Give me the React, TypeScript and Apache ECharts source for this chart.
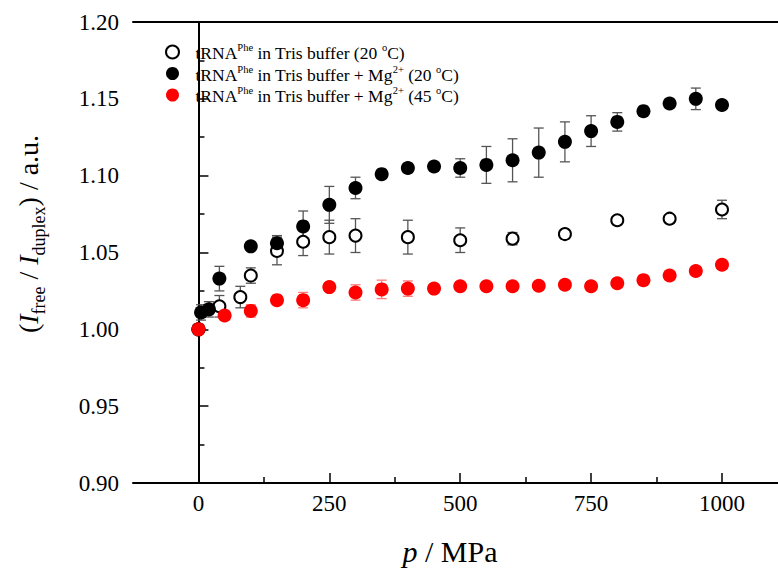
import React, { useEffect, useRef } from "react";
import * as echarts from "echarts";

// ---- data ----
const openP = [0, 40, 80, 100, 150, 200, 250, 300, 400, 500, 600, 700, 800, 900, 1000];
const openY = [1.0, 1.015, 1.021, 1.035, 1.051, 1.057, 1.06, 1.061, 1.06, 1.058, 1.059, 1.062, 1.071, 1.072, 1.078];
const openErr = [0, 0.007, 0.007, 0.005, 0.009, 0.009, 0.011, 0.011, 0.011, 0.008, 0.004, 0.003, 0.002, 0.002, 0.006];

const mgP = [0, 5, 20, 40, 100, 150, 200, 250, 300, 350, 400, 450, 500, 550, 600, 650, 700, 750, 800, 850, 900, 950, 1000];
const mgY = [1.0, 1.011, 1.013, 1.033, 1.054, 1.056, 1.067, 1.081, 1.092, 1.101, 1.105, 1.106, 1.105, 1.107, 1.11, 1.115, 1.122, 1.129, 1.135, 1.142, 1.147, 1.15, 1.146];
const mgErr = [0, 0.005, 0.005, 0.008, 0, 0.005, 0.01, 0.012, 0.007, 0, 0.003, 0, 0.006, 0.012, 0.014, 0.016, 0.013, 0.01, 0.006, 0, 0.002, 0.007, 0];

const mg45P = [0, 50, 100, 150, 200, 250, 300, 350, 400, 450, 500, 550, 600, 650, 700, 750, 800, 850, 900, 950, 1000];
const mg45Y = [1.0, 1.009, 1.012, 1.019, 1.019, 1.0275, 1.024, 1.026, 1.0265, 1.0265, 1.028, 1.028, 1.028, 1.0284, 1.029, 1.028, 1.03, 1.032, 1.035, 1.038, 1.042];
const mg45Err = [0, 0, 0.004, 0, 0.005, 0, 0.005, 0.006, 0.005, 0, 0, 0, 0, 0, 0, 0, 0, 0, 0, 0, 0];

const xMajorTicks = [0, 250, 500, 750, 1000];
const xMinorTicks = [125, 375, 625, 875];

const seriesNames = ["open20", "mg20", "mg45"];

const FONT = "'Liberation Serif', 'Times New Roman', serif";

function pts(p: number[], y: number[]) {
  return p.map((v, i) => [v, y[i]]);
}
function errs(p: number[], y: number[], e: number[]) {
  const out: number[][] = [];
  p.forEach((v, i) => {
    if (e[i] > 0) out.push([v, y[i] - e[i], y[i] + e[i]]);
  });
  return out;
}

function errSeries(data: number[][], color: string) {
  return {
    type: "custom",
    xAxisIndex: 0,
    yAxisIndex: 0,
    data,
    encode: { x: 0, y: [1, 2] },
    z: 1,
    silent: true,
    renderItem: (params: any, api: any) => {
      const x = api.value(0);
      const lo = api.coord([x, api.value(1)]);
      const hi = api.coord([x, api.value(2)]);
      const hw = 5;
      const st = { stroke: color, lineWidth: 1.3 };
      return {
        type: "group",
        children: [
          { type: "line", shape: { x1: hi[0], y1: hi[1], x2: lo[0], y2: lo[1] }, style: st },
          { type: "line", shape: { x1: hi[0] - hw, y1: hi[1], x2: hi[0] + hw, y2: hi[1] }, style: st },
          { type: "line", shape: { x1: lo[0] - hw, y1: lo[1], x2: lo[0] + hw, y2: lo[1] }, style: st },
        ],
      };
    },
  };
}

const legendText: Record<string, string> = {
  open20: "{t|tRNA}{s|Phe}{t| in Tris buffer (20 }{s|o}{t|C)}",
  mg20: "{t|tRNA}{s|Phe}{t| in Tris buffer + Mg}{s|2+}{t| (20 }{s|o}{t|C)}",
  mg45: "{t|tRNA}{s|Phe}{t| in Tris buffer + Mg}{s|2+}{t| (45 }{s|o}{t|C)}",
};

const tickFont = { fontFamily: FONT, fontSize: 23, color: "#000" };

export default function App() {
  const ref = useRef<HTMLDivElement>(null);
  useEffect(() => {
    if (!ref.current) return;
    const chart = echarts.init(ref.current, undefined, { renderer: "svg" });
    const axisLineStyle = { color: "#000", width: 2 };
    chart.setOption({
      animation: false,
      backgroundColor: "#fff",
      textStyle: { fontFamily: FONT, color: "#000" },
      grid: { left: 133, right: 0, top: 22, bottom: 86, containLabel: false },
      legend: {
        data: seriesNames,
        orient: "vertical",
        left: 160,
        top: 37,
        itemGap: 1.5,
        itemWidth: 36,
        itemHeight: 13,
        symbolKeepAspect: true,
        formatter: (name: string) => legendText[name],
        textStyle: {
          fontFamily: FONT,
          color: "#000",
          rich: {
            t: { fontFamily: FONT, fontSize: 17.5, color: "#000", lineHeight: 20, verticalAlign: "bottom" },
            s: { fontFamily: FONT, fontSize: 10.5, color: "#000", lineHeight: 12, verticalAlign: "top" },
          },
        },
      },
      xAxis: [
        {
          type: "value",
          position: "bottom",
          min: -125,
          max: 1107,
          axisLine: { show: true, lineStyle: axisLineStyle },
          axisTick: { show: true, inside: true, length: 10, customValues: xMajorTicks, lineStyle: { color: "#000", width: 1.5 } },
          axisLabel: {
            show: true,
            customValues: xMajorTicks,
            margin: 9,
            ...tickFont,
            formatter: (v: number) => String(v),
          },
          splitLine: { show: false },
        },
        {
          type: "value",
          position: "bottom",
          min: -125,
          max: 1107,
          axisLine: { show: false },
          axisTick: { show: true, inside: true, length: 6, customValues: xMinorTicks, lineStyle: { color: "#000", width: 1.5 } },
          axisLabel: { show: false },
          splitLine: { show: false },
        },
        {
          type: "value",
          position: "top",
          min: -125,
          max: 1107,
          axisLine: { show: true, lineStyle: axisLineStyle },
          axisTick: { show: false },
          axisLabel: { show: false },
          splitLine: { show: false },
        },
      ],
      yAxis: {
        type: "value",
        min: 0.9,
        max: 1.2,
        interval: 0.05,
        axisLine: { show: true, lineStyle: axisLineStyle },
        axisTick: { show: true, inside: true, length: 10, lineStyle: { color: "#000", width: 1.5 } },
        minorTick: { show: true, splitNumber: 2, length: 6, lineStyle: { color: "#000", width: 1.5 } },
        axisLabel: {
          margin: 14,
          ...tickFont,
          formatter: (v: number) => v.toFixed(2),
        },
        splitLine: { show: false },
      },
      graphic: [
        {
          type: "text",
          x: 31,
          y: 234,
          rotation: Math.PI / 2,
          style: {
            text: "{n|(}{i|I}{sb|free}{n| / }{i|I}{sb|duplex}{n|) / a.u.}",
            align: "center",
            verticalAlign: "middle",
            rich: {
              n: { fontFamily: FONT, fontSize: 28, fill: "#000", lineHeight: 34, verticalAlign: "top" },
              i: { fontFamily: FONT, fontSize: 28, fontStyle: "italic", fill: "#000", lineHeight: 34, verticalAlign: "top" },
              sb: { fontFamily: FONT, fontSize: 18, fill: "#000", lineHeight: 18, verticalAlign: "bottom" },
            },
          },
        },
        {
          type: "text",
          x: 450,
          y: 551,
          style: {
            text: "{i|p}{n| / MPa}",
            align: "center",
            verticalAlign: "middle",
            rich: {
              i: { fontFamily: FONT, fontSize: 30, fontStyle: "italic", fill: "#000" },
              n: { fontFamily: FONT, fontSize: 30, fill: "#000" },
            },
          },
        },
      ],
      series: [
        errSeries(errs(openP, openY, openErr), "#555"),
        errSeries(errs(mgP, mgY, mgErr), "#555"),
        errSeries(errs(mg45P, mg45Y, mg45Err), "#ff7a7a"),
        {
          name: "open20",
          type: "scatter",
          data: pts(openP, openY),
          symbol: "circle",
          symbolSize: 12,
          symbolKeepAspect: true,
          z: 2,
          itemStyle: { color: "#fff", borderColor: "#000", borderWidth: 2, opacity: 1 },
        },
        {
          name: "mg20",
          type: "scatter",
          data: pts(mgP, mgY),
          symbol: "circle",
          symbolSize: 14,
          symbolKeepAspect: true,
          z: 3,
          itemStyle: { color: "#000", opacity: 1 },
        },
        {
          name: "mg45",
          type: "scatter",
          data: pts(mg45P, mg45Y),
          symbol: "circle",
          symbolSize: 14,
          symbolKeepAspect: true,
          z: 4,
          itemStyle: { color: "#ff0000", opacity: 1 },
        },
      ],
    });
    return () => chart.dispose();
  }, []);
  return (
    <div
      ref={ref}
      style={{ position: "fixed", left: 0, top: 0, width: 778, height: 569 }}
    />
  );
}
